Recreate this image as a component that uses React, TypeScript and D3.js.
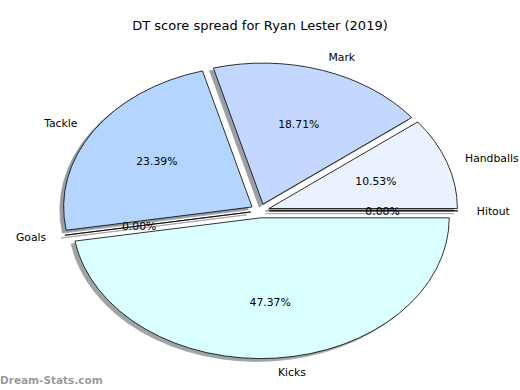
import React from "react";
import * as d3 from "d3";

const categories = ["Hitout", "Handballs", "Mark", "Tackle", "Goals", "Kicks"];
const values = [0, 18, 32, 40, 0, 81];
const colors = ["#eef6ff", "#eaf1ff", "#c4d8ff", "#b3d5ff", "#cce6ff", "#d9ffff"];
const title = "DT score spread for Ryan Lester (2019)";
const watermark = "Dream-Stats.com";

const W = 520;
const H = 390;
const cx = 260;
const cy = 210.8;
const Rx = 188.5;
const Ry = 141;
const explode = 0.05;

export default function App() {
  const total = d3.sum(values);
  const pie = d3
    .pie<number>()
    .sort(null)
    .value((d) => d)
    .startAngle(Math.PI / 2)
    .endAngle(Math.PI / 2 - 2 * Math.PI);
  const arcs = pie(values);
  const arc = d3.arc<any>().innerRadius(0).outerRadius(1);
  const fmt = d3.format(".2f");

  const items = arcs.map((a, i) => {
    const aMid = (a.startAngle + a.endAngle) / 2;
    const th = Math.PI / 2 - aMid;
    const ox = cx + explode * Rx * Math.cos(th);
    const oy = cy - explode * Ry * Math.sin(th);
    return { a, i, th, ox, oy };
  });

  const font = "'DejaVu Sans', sans-serif";

  return (
    <svg width={W} height={H} style={{ position: "absolute", left: 0, top: 0 }} fontFamily={font}>
      <rect width={W} height={H} fill="#ffffff" />
      {items.map(({ a, i, ox, oy }) => {
        const c = d3.rgb(colors[i]);
        const sc = d3.rgb(c.r * 0.3, c.g * 0.3, c.b * 0.3).toString();
        return (
          <path
            key={"s" + i}
            d={arc(a) || ""}
            transform={`translate(${ox - 0.02 * Rx},${oy + 0.02 * Ry}) scale(${Rx},${Ry})`}
            fill={sc}
            stroke={sc}
            strokeWidth={0.8}
            opacity={0.5}
            vectorEffect="non-scaling-stroke"
          />
        );
      })}
      {items.map(({ a, i, ox, oy }) => (
        <path
          key={"w" + i}
          d={arc(a) || ""}
          transform={`translate(${ox},${oy}) scale(${Rx},${Ry})`}
          fill={colors[i]}
          stroke="#000"
          strokeWidth={0.8}
          vectorEffect="non-scaling-stroke"
        />
      ))}
      {items.map(({ i, th, ox, oy }) => {
        const lx = ox + 1.1 * Rx * Math.cos(th);
        const ly = oy - 1.1 * Ry * Math.sin(th);
        const px = ox + 0.6 * Rx * Math.cos(th);
        const py = oy - 0.6 * Ry * Math.sin(th);
        return (
          <g key={"t" + i} fontSize={10.8} fill="#000">
            <text x={lx} y={ly} dy="0.35em" textAnchor={Math.cos(th) > 0 ? "start" : "end"}>
              {categories[i]}
            </text>
            <text x={px} y={py} dy="0.35em" textAnchor="middle">
              {fmt((values[i] / total) * 100) + "%"}
            </text>
          </g>
        );
      })}
      <text x={W / 2} y={30} textAnchor="middle" fontSize={13} fill="#000">
        {title}
      </text>
      <text x={0} y={384} fontSize={10.5} fontWeight="bold" fill="#000" opacity={0.4}>
        {watermark}
      </text>
    </svg>
  );
}
